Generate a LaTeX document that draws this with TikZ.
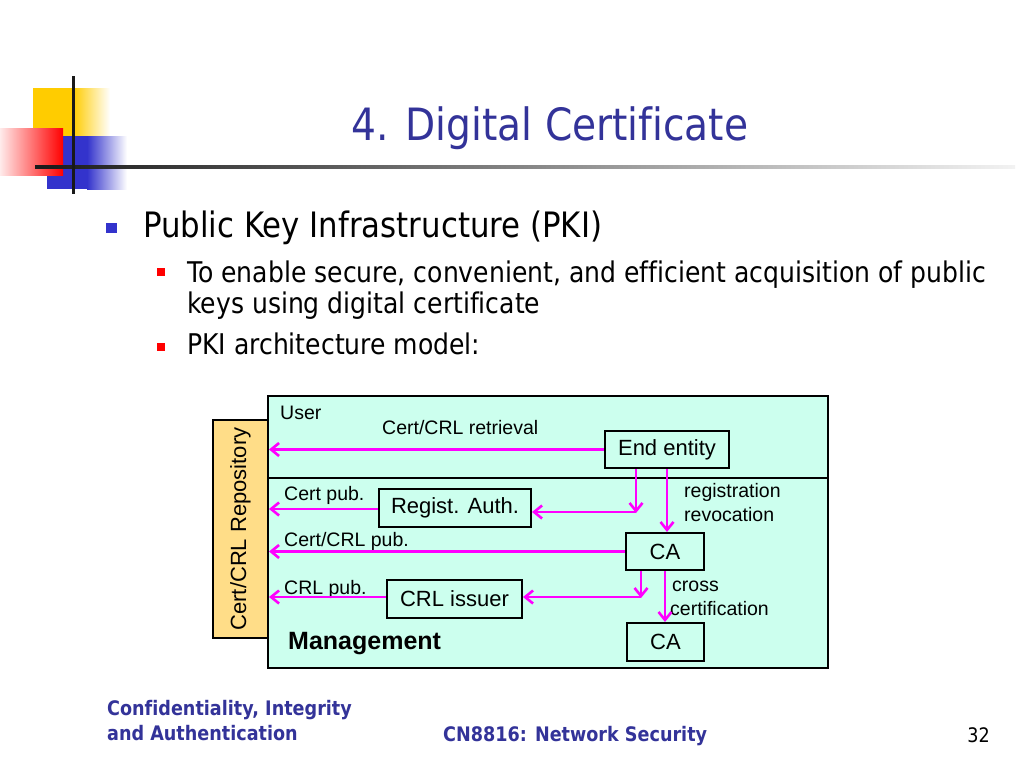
\documentclass[tikz,border=0pt]{standalone}
\usepackage{fontspec}
\setmainfont{Liberation Sans}
\newfontfamily\tah{DejaVu Sans}[FakeStretch=0.88,Ligatures=NoCommon]
\newfontfamily\ari{Liberation Sans}
\usetikzlibrary{arrows.meta}
\definecolor{ttl}{RGB}{51,51,153}
\definecolor{mint}{RGB}{204,255,238}
\definecolor{repo}{RGB}{255,221,136}
\definecolor{mag}{RGB}{255,0,255}
\definecolor{lyel}{RGB}{255,204,0}
\definecolor{lblu}{RGB}{51,51,204}
\begin{document}
\begin{tikzpicture}[x=1pt,y=-1pt,
  box/.style={draw=black,line width=2pt,fill=mint,inner sep=0pt,font=\ari\fontsize{22}{24}\selectfont},
  lbl/.style={anchor=west,inner sep=0pt,font=\ari\fontsize{19.5}{21}\selectfont},
  arr/.style={draw=mag,line width=2.2pt,-{Straight Barb[length=8pt,width=13pt,line width=2.6pt]}},
  bodytxt/.style={anchor=base west,inner sep=0pt},
  foot/.style={anchor=west,inner sep=0pt,text=ttl,font=\tah\bfseries\fontsize{20}{22}\selectfont}]
\useasboundingbox (0,0) rectangle (1024,768);
\fill[white] (0,0) rectangle (1024,768);
% logo
\fill[lyel] (33,88) rectangle (73,136);
\shade[left color=lyel,right color=white] (73,88) rectangle (110,136);
\fill[lblu] (47,136) rectangle (87,189);
\shade[left color=lblu,right color=white] (87,136) rectangle (127,189);
\shade[left color=red!8,right color=red] (0,128) rectangle (63,175);
\shade[left color=black!90,right color=black!5] (35,165.5) rectangle (1015,168.5);
\fill[black!90] (72,76) rectangle (75,194);
% title
\node[anchor=base,inner sep=0pt,text=ttl,font=\tah\fontsize{44.5}{48}\selectfont] (title) at (550,140) {4. Digital Certificate};
% bullets
\fill[lblu] (106,223) rectangle (117,233);
\node[bodytxt,font=\tah\fontsize{35}{38}\selectfont] (b1) at (143,237) {Public Key Infrastructure (PKI)};
\fill[red] (157,268) rectangle (165,276);
\node[bodytxt,font=\tah\fontsize{28.5}{32}\selectfont] (b2) at (187,282) {To enable secure, convenient, and efficient acquisition of public};
\node[bodytxt,font=\tah\fontsize{28.5}{32}\selectfont] (b2b) at (187,313) {keys using digital certificate};
\fill[red] (157,343) rectangle (165,351);
\node[bodytxt,font=\tah\fontsize{28.5}{32}\selectfont] (b3) at (187,354) {PKI architecture model:};
% diagram
\draw[line width=2pt,fill=mint] (268,396) rectangle (828,668);
\draw[line width=2pt] (268,478) -- (828,478);
\node[draw=black,line width=2pt,fill=repo,minimum width=55pt,minimum height=218pt,inner sep=0pt] (rep) at (240.5,529) {};
\node[rotate=90,inner sep=0pt,font=\ari\fontsize{22}{24}\selectfont] (reptxt) at (rep.center) {Cert/CRL Repository};
\node[box,minimum width=124pt,minimum height=37pt] (ee) at (667,449.5) {End entity};
\node[box,minimum width=152pt,minimum height=38pt] (ra) at (455,508) {Regist. Auth.};
\node[box,minimum width=78pt,minimum height=37pt] (ca1) at (665,551.5) {CA};
\node[box,minimum width=135pt,minimum height=38pt] (crl) at (454.5,599) {CRL issuer};
\node[box,minimum width=77pt,minimum height=38pt] (ca2) at (665.5,642) {CA};
% labels
\node[lbl] (user) at (280,413) {User};
\node[lbl] (retr) at (382,428) {Cert/CRL retrieval};
\node[lbl] (cpub) at (284,495) {Cert pub.};
\node[lbl] (ccpub) at (284,541) {Cert/CRL pub.};
\node[lbl] (crlpub) at (284,589) {CRL pub.};
\node[lbl] (reg) at (684,492) {registration};
\node[lbl] (rev) at (684,515) {revocation};
\node[lbl] (cross) at (672,586) {cross};
\node[lbl] (cert) at (670,609) {certification};
\node[anchor=west,inner sep=0pt,font=\ari\bfseries\fontsize{25}{27}\selectfont] (mgmt) at (288,644) {Management};
% connectors
\coordinate (j1) at (636,512);
\coordinate (j2) at (641,597);
\draw[arr] (ee.west) -- (ee.west -| rep.east);
\draw[arr] (ee.south -| j1) -- ([yshift=-1pt]j1);
\draw[arr] (j1) -- (j1 -| ra.east);
\draw[arr] (ee.south) -- (ee.south |- ca1.north);
\draw[arr] ([yshift=-1pt]ra.west) -- ([yshift=-1pt]ra.west -| rep.east);
\draw[arr] (ca1.west) -- (ca1.west -| rep.east);
\draw[arr] (ca1.south -| j2) -- ([yshift=-1pt]j2);
\draw[arr] (j2) -- (j2 -| crl.east);
\draw[arr] (ca1.south) -- (ca1.south |- ca2.north);
\draw[arr] ([yshift=2pt]crl.west) -- ([yshift=2pt]crl.west -| rep.east);
% footer
\node[foot] (f1) at (107,710) {Confidentiality, Integrity};
\node[foot] (f2) at (107,733) {and Authentication};
\node[foot] (f3) at (443,736) {CN8816: Network Security};
\node[anchor=east,inner sep=0pt,font=\tah\fontsize{20}{22}\selectfont] (pg) at (990,735) {32};
\end{tikzpicture}
\end{document}
